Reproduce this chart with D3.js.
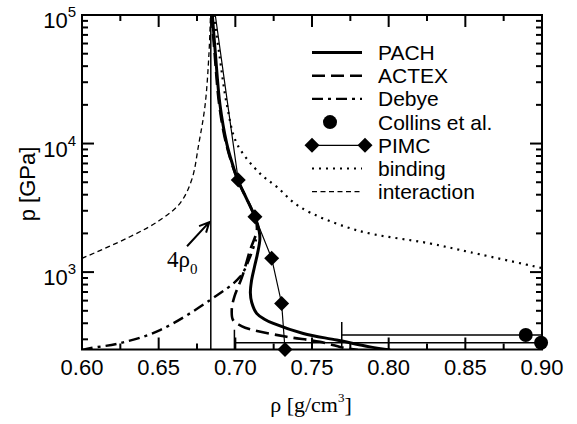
<!DOCTYPE html>
<html>
<head>
<meta charset="utf-8">
<script src="https://cdn.jsdelivr.net/npm/d3@7"></script>
<style>
body { margin: 0; background: #fff; }
svg text { font-family: "Liberation Sans", Arial, Helvetica, sans-serif; fill: #000; }
svg text.serif { font-family: "Liberation Serif", "Times New Roman", serif; }
</style>
</head>
<body>
<div id="chart"></div>
<script>
// [density g/cm3, pressure GPa]
const pach = [[0.685, 1e5], [0.687, 5e4], [0.690, 2e4], [0.6944, 1e4], [0.698, 7000], [0.7017, 5200],
    [0.707, 3800], [0.7128, 2690], [0.7155, 2100], [0.716, 1800], [0.7145, 1400], [0.7125, 1100],
    [0.7105, 850], [0.7098, 690], [0.7107, 580], [0.7139, 478], [0.719, 430], [0.7248, 399],
    [0.7443, 333], [0.7661, 296], [0.7878, 262], [0.801, 248]]
const actex = [[0.6845, 1e5], [0.6865, 5e4], [0.6895, 2e4], [0.694, 1e4], [0.7015, 5200], [0.7095, 3300],
    [0.7135, 2500], [0.714, 2100], [0.7096, 1480], [0.7044, 918], [0.6995, 650], [0.6977, 520],
    [0.6985, 424], [0.704, 380], [0.7117, 354], [0.7335, 314], [0.7552, 287], [0.7726, 255], [0.78, 248]]
const debye = [[0.600, 248], [0.6052, 256], [0.6248, 280], [0.6509, 354], [0.6835, 606], [0.703, 918],
    [0.7096, 1310], [0.7135, 1800]]
const binding = [[0.686, 1e5], [0.6895, 5e4], [0.6945, 2e4], [0.701, 1e4], [0.716, 5860], [0.727, 4610],
    [0.742, 3220], [0.779, 2120], [0.827, 1670], [0.853, 1430], [0.90, 1075]]
const interaction = [[0.600, 1280], [0.6313, 1884], [0.6509, 2540], [0.6639, 3430], [0.6715, 5200],
    [0.6762, 1e4], [0.6803, 2e4], [0.6828, 5e4], [0.6838, 1e5]]
const pimc = [[0.686, 1.2e5], [0.7019, 5200], [0.7128, 2690], [0.7237, 1280], [0.7302, 570], [0.7324, 250]]
const collins = [[0.8894, 324, 0.12], [0.8994, 282, 0.20]]   // rho, p, rho error

const rho0x4 = 0.684
const x_ticks = [0.60, 0.65, 0.70, 0.75, 0.80, 0.85, 0.90]
const y_ticks = [1e3, 1e4, 1e5]
const y_exps = ['3', '4', '5']
const legend_names = ['PACH', 'ACTEX', 'Debye', 'Collins et al.', 'PIMC', 'binding', 'interaction']

const width = 577
const height = 424

const x = d3.scaleLinear().domain([0.6, 0.9]).range([82, 542])
const y = d3.scaleLog().domain([250, 1e5]).range([349.5, 15])

const svg = d3.select('#chart').append('svg')
    .attr('width', width)
    .attr('height', height)

svg.append('clipPath').attr('id', 'clip')
    .append('rect')
    .attr('x', 82).attr('y', 15)
    .attr('width', 460).attr('height', 334.5)

const styles = {
    pach: { w: 3, dash: null },
    actex: { w: 2.6, dash: '13,6' },
    debye: { w: 2.4, dash: '11,5,3,5' },
    binding: { w: 2.2, dash: '2,5' },
    interaction: { w: 1.3, dash: '5,3.5' },
    pimc: { w: 1.2, dash: null }
}

const line = d3.line()
    .x(d => x(d[0]))
    .y(d => y(d[1]))
    .curve(d3.curveCatmullRom.alpha(0.5))

const plot = svg.append('g').attr('clip-path', 'url(#clip)')

// 4 rho0 vertical line
plot.append('line')
    .attr('x1', x(rho0x4)).attr('x2', x(rho0x4))
    .attr('y1', y(250)).attr('y2', y(1e5))
    .attr('stroke', '#000')
    .attr('stroke-width', 1.5)

const curves = [
    [interaction, styles.interaction],
    [binding, styles.binding],
    [debye, styles.debye],
    [actex, styles.actex],
    [pach, styles.pach]
]
curves.forEach(([data, s]) => {
    plot.append('path')
        .attr('d', line(data))
        .attr('fill', 'none')
        .attr('stroke', '#000')
        .attr('stroke-width', s.w)
        .attr('stroke-dasharray', s.dash)
})

// PIMC
plot.append('path')
    .attr('d', d3.line().x(d => x(d[0])).y(d => y(d[1]))(pimc))
    .attr('fill', 'none')
    .attr('stroke', '#000')
    .attr('stroke-width', styles.pimc.w)

// Collins error bars
const err = plot.append('g').attr('stroke', '#000').attr('stroke-width', 1.5)
collins.forEach(d => {
    const yy = y(d[1])
    err.append('line')
        .attr('x1', x(d[0] - d[2])).attr('x2', x(d[0] + d[2]))
        .attr('y1', yy).attr('y2', yy)
    ;[d[0] - d[2], d[0] + d[2]].forEach(v => {
        err.append('line')
            .attr('x1', x(v)).attr('x2', x(v))
            .attr('y1', yy - 13).attr('y2', yy + 13)
    })
})

const diamond = 'M0,-7.5L7.5,0L0,7.5L-7.5,0Z'
svg.append('g').selectAll('path')
    .data(pimc.filter(d => d[1] <= 1e5))
    .enter()
    .append('path')
    .attr('d', diamond)
    .attr('transform', d => `translate(${ x(d[0]) }, ${ y(d[1]) })`)
    .attr('fill', '#000')

svg.append('g').selectAll('circle')
    .data(collins)
    .enter()
    .append('circle')
    .attr('cx', d => x(d[0]))
    .attr('cy', d => y(d[1]))
    .attr('r', 7)
    .attr('fill', '#000')

// annotation 4 rho0
const ann = svg.append('text')
    .attr('class', 'serif')
    .attr('x', x(0.6554))
    .attr('y', y(1094))
    .attr('font-size', 23)
ann.append('tspan').text('4ρ')
ann.append('tspan').text('0').attr('font-size', 15).attr('dy', 7)

const a0 = [x(0.6685), y(1590)]
const a1 = [x(rho0x4) - 1.5, y(2450)]
const ang = Math.atan2(a1[1] - a0[1], a1[0] - a0[0])
const hl = 11
svg.append('path')
    .attr('d', `M${ a0[0] },${ a0[1] }L${ a1[0] },${ a1[1] }` +
        `M${ a1[0] - hl * Math.cos(ang - 0.45) },${ a1[1] - hl * Math.sin(ang - 0.45) }L${ a1[0] },${ a1[1] }` +
        `L${ a1[0] - hl * Math.cos(ang + 0.45) },${ a1[1] - hl * Math.sin(ang + 0.45) }`)
    .attr('fill', 'none')
    .attr('stroke', '#000')
    .attr('stroke-width', 2)

// axes: inward ticks on all four sides
const x_minor = d3.range(0.625, 0.9, 0.05)
const y_minor = []
;[100, 1000, 10000].forEach(b => {
    for (let k = 2; k <= 9; k++) if (b * k >= 250) y_minor.push(b * k)
})

const axes = svg.append('g')
const ag = axes.append('g').attr('stroke', '#000').attr('stroke-width', 2)

x_ticks.concat(x_minor).forEach((v, i) => {
    const len = i < x_ticks.length ? 12 : 6
    ag.append('line').attr('x1', x(v)).attr('x2', x(v)).attr('y1', 349.5).attr('y2', 349.5 - len)
    ag.append('line').attr('x1', x(v)).attr('x2', x(v)).attr('y1', 15).attr('y2', 15 + len)
})
y_ticks.concat(y_minor).forEach((v, i) => {
    const len = i < y_ticks.length ? 12 : 6
    ag.append('line').attr('x1', 82).attr('x2', 82 + len).attr('y1', y(v)).attr('y2', y(v))
    ag.append('line').attr('x1', 542).attr('x2', 542 - len).attr('y1', y(v)).attr('y2', y(v))
})

axes.append('rect')
    .attr('x', 82).attr('y', 15)
    .attr('width', 460).attr('height', 334.5)
    .attr('fill', 'none')
    .attr('stroke', '#000')
    .attr('stroke-width', 2)

axes.append('g').selectAll('text')
    .data(x_ticks)
    .enter()
    .append('text')
    .attr('x', d => x(d))
    .attr('y', 375)
    .attr('text-anchor', 'middle')
    .attr('font-size', 22)
    .text(d => d3.format('.2f')(d))

const yl = axes.append('g').selectAll('text')
    .data(y_ticks)
    .enter()
    .append('text')
    .attr('x', 76)
    .attr('y', d => y(d) + 13)
    .attr('text-anchor', 'end')
    .attr('font-size', 22)
yl.append('tspan').text('10')
yl.append('tspan').text((d, i) => y_exps[i]).attr('font-size', 15).attr('dy', -11)

svg.append('text')
    .attr('transform', 'translate(35, 184) rotate(-90)')
    .attr('text-anchor', 'middle')
    .attr('font-size', 22)
    .text('p [GPa]')

const xl = svg.append('text')
    .attr('class', 'serif')
    .attr('x', 311)
    .attr('y', 412)
    .attr('text-anchor', 'middle')
    .attr('font-size', 22)
xl.append('tspan').text('ρ [g/cm')
xl.append('tspan').text('3').attr('font-size', 13).attr('dy', -10)
xl.append('tspan').text(']').attr('dy', 10)

// legend
const lg = svg.append('g')
const row_y = i => 52.5 + i * 23.2
const lx0 = 312
const lx1 = 362
const leg_styles = [styles.pach, styles.actex, styles.debye, null, styles.pimc, styles.binding, styles.interaction]
legend_names.forEach((name, i) => {
    const yy = row_y(i)
    const s = leg_styles[i]
    if (name === 'Collins et al.') {
        lg.append('circle').attr('cx', 330).attr('cy', yy).attr('r', 7).attr('fill', '#000')
    } else {
        lg.append('line')
            .attr('x1', lx0).attr('x2', lx1 + (name === 'PIMC' ? 3 : 0))
            .attr('y1', yy).attr('y2', yy)
            .attr('stroke', '#000')
            .attr('stroke-width', s.w)
            .attr('stroke-dasharray', s.dash)
    }
    if (name === 'PIMC') {
        ;[lx0, lx1 + 3].forEach(px => {
            lg.append('path').attr('d', diamond).attr('transform', `translate(${ px }, ${ yy })`).attr('fill', '#000')
        })
    }
    lg.append('text')
        .attr('x', 378)
        .attr('y', yy + 7.5)
        .attr('font-size', 21)
        .text(name)
})
</script>
</body>
</html>
